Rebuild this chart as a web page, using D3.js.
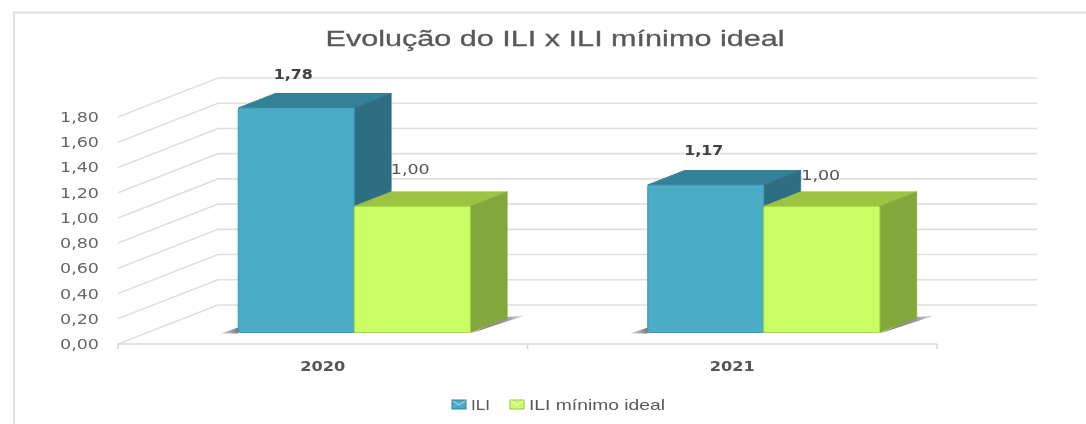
<!DOCTYPE html>
<html lang="pt">
<head>
<meta charset="UTF-8">
<title>Evolução do ILI x ILI mínimo ideal</title>
<script src="https://d3js.org/d3.v7.min.js"></script>
<style>
  html, body { margin: 0; padding: 0; background: #fff; }
  svg { display: block; }
</style>
</head>
<body>
<svg width="1086" height="424"></svg>
<script>
var categories = ["2020", "2021"];
var seriesNames = ["ILI", "ILI mínimo ideal"];
var iliValues = [1.78, 1.17];
var idealValues = [1.00, 1.00];
var yTicks = [0, 0.2, 0.4, 0.6, 0.8, 1.0, 1.2, 1.4, 1.6, 1.8];

var root = d3.select("svg");
var fmt = function(v) { return v.toFixed(2).replace(".", ","); };

// plot box
var left = 118, right = 937, floorY = 344, topY = 117;
var wallDx = 100, wallDy = -39;      // floor depth
var depthDx = 37, depthDy = -14.5;   // bar depth
var barDx = 31.5, barDy = -11.5;     // bars sit a bit inside the floor

var y = d3.scaleLinear().domain([0, 1.8]).range([floorY, topY]);
var x0 = d3.scaleBand().domain(categories).range([left, right]);
var x1 = d3.scaleBand().domain(d3.range(2)).range([0, 232]);
var barStart = (x0.bandwidth() - 232) / 2 + barDx;

var colors = [
  { front: "#4bacc6", top: "#338196", side: "#2f6e82", edge: "#3f93aa", light: "#8fd3e6" },
  { front: "#c9ff62", top: "#9dc440", side: "#82a83a", edge: "#a9d84c", light: "#eeffc0" }
];

var defs = root.append("defs");
// the picture is a soft, scaled-up image
defs.append("filter").attr("id", "soft")
  .attr("filterUnits", "userSpaceOnUse")
  .attr("x", 0).attr("y", 0).attr("width", 1086).attr("height", 424)
  .append("feGaussianBlur").attr("stdDeviation", 0.45);
var shade = defs.append("linearGradient").attr("id", "shade").attr("x1", 0).attr("x2", 1).attr("y1", 0).attr("y2", 0);
shade.append("stop").attr("offset", "0%").attr("stop-color", "#777");
shade.append("stop").attr("offset", "65%").attr("stop-color", "#999");
shade.append("stop").attr("offset", "100%").attr("stop-color", "#e4e4e4");
var shadeL = defs.append("linearGradient").attr("id", "shadeL").attr("x1", 0).attr("x2", 1).attr("y1", 0).attr("y2", 0);
shadeL.append("stop").attr("offset", "0%").attr("stop-color", "#e4e4e4");
shadeL.append("stop").attr("offset", "100%").attr("stop-color", "#777");

var svg = root.append("g").attr("filter", "url(#soft)");

// frame
svg.append("path")
  .attr("d", "M14,424V12.5H1086")
  .attr("fill", "none").attr("stroke", "#e0e0e0").attr("stroke-width", 2);

// Gridlines
var grid = svg.append("g").attr("fill", "none").attr("stroke", "#e0e0e0").attr("stroke-width", 1.6);
yTicks.forEach(function(t) {
  grid.append("path").attr("d", d3.line()([
    [left, y(t)],
    [left + wallDx, y(t) + wallDy],
    [right + wallDx, y(t) + wallDy]
  ]));
});

// Floor line
var axisG = svg.append("g").attr("stroke", "#d9d9d9").attr("stroke-width", 1.6).attr("fill", "none");
axisG.append("path").attr("d", d3.line()([[left, floorY], [right, floorY]]));
[left, (left + right) / 2, right].forEach(function(px) {
  axisG.append("path").attr("d", d3.line()([[px, floorY], [px, floorY + 5]]));
});

// Tick labels, squeezed wide like the picture
var yLabels = svg.append("g").attr("font-family", "DejaVu Sans").attr("fill", "#666");
yTicks.forEach(function(t) {
  yLabels.append("text")
    .attr("x", 99).attr("y", y(t) + 5)
    .attr("text-anchor", "end").attr("font-size", 13.5)
    .attr("textLength", 39).attr("lengthAdjust", "spacingAndGlyphs")
    .text(fmt(t));
});

svg.selectAll(".cat").data(categories).enter().append("text")
  .attr("class", "cat")
  .attr("x", function(d) { return x0(d) + x0.bandwidth() / 2; })
  .attr("y", 371)
  .attr("text-anchor", "middle")
  .attr("font-family", "DejaVu Sans").attr("font-weight", "bold").attr("font-size", 13.5)
  .attr("textLength", 45).attr("lengthAdjust", "spacingAndGlyphs")
  .attr("fill", "#555")
  .text(function(d) { return d; });

// Bars
function drawBar(cat, s, value) {
  var c = colors[s];
  var bx = x0(cat) + barStart + x1(s);
  var bw = x1.bandwidth();
  var base = y(0) + barDy;
  var tp = y(value) + barDy;
  var g = svg.append("g");
  // floor shadow
  if (s === 0) {
    g.append("path").attr("fill", "url(#shadeL)")
      .attr("d", d3.line()([[bx, base + 1], [bx, base - 5], [bx - 18, base + 1]]) + "Z");
  } else {
    g.append("path").attr("fill", "url(#shade)")
      .attr("d", d3.line()([[bx + bw, base + 1], [bx + bw + depthDx, base + depthDy - 1], [bx + bw + depthDx + 18, base + depthDy - 2.5]]) + "Z");
  }
  g.append("path").attr("fill", c.top).attr("stroke", c.top).attr("stroke-linejoin", "round")
    .attr("d", d3.line()([[bx, tp], [bx + depthDx, tp + depthDy], [bx + bw + depthDx, tp + depthDy], [bx + bw, tp]]) + "Z");
  g.append("path").attr("fill", c.side).attr("stroke", c.side).attr("stroke-width", 0.6).attr("stroke-linejoin", "round")
    .attr("d", d3.line()([[bx + bw, tp], [bx + bw + depthDx, tp + depthDy], [bx + bw + depthDx, base + depthDy], [bx + bw, base]]) + "Z");
  g.append("rect").attr("x", bx).attr("y", tp).attr("width", bw).attr("height", base - tp).attr("rx", 1.5)
    .attr("fill", c.front).attr("stroke", c.edge).attr("stroke-width", 1);
}

categories.forEach(function(cat, i) {
  drawBar(cat, 0, iliValues[i]);
});
categories.forEach(function(cat, i) {
  drawBar(cat, 1, idealValues[i]);
});

// Value labels
function valueLabel(cat, s, value, dx, dy, bold) {
  svg.append("text")
    .attr("x", x0(cat) + barStart + x1(s) + dx)
    .attr("y", y(value) + dy)
    .attr("text-anchor", "middle")
    .attr("font-family", "DejaVu Sans").attr("font-size", 13.5)
    .attr("font-weight", bold ? "bold" : "normal")
    .attr("textLength", 39).attr("lengthAdjust", "spacingAndGlyphs")
    .attr("fill", bold ? "#404040" : "#555")
    .text(fmt(value));
}
valueLabel("2020", 0, iliValues[0], 55, -40.5, true);
valueLabel("2021", 0, iliValues[1], 56, -41.5, true);
valueLabel("2020", 1, idealValues[0], 56, -44, false);
valueLabel("2021", 1, idealValues[1], 57, -37.5, false);

// Title
svg.append("text")
  .attr("x", 555).attr("y", 46)
  .attr("text-anchor", "middle")
  .attr("font-family", "Liberation Sans").attr("font-size", 22)
  .attr("textLength", 459).attr("lengthAdjust", "spacingAndGlyphs")
  .attr("fill", "#595959").attr("stroke", "#595959").attr("stroke-width", 0.3)
  .text("Evolução do ILI x ILI mínimo ideal");

// Legend
var legendX = [452, 510];
seriesNames.forEach(function(name, i) {
  var ix = legendX[i], iy = 400;
  svg.append("rect").attr("x", ix).attr("y", iy).attr("width", 14).attr("height", 9)
    .attr("fill", colors[i].front).attr("stroke", colors[i].top).attr("stroke-width", 1);
  svg.append("path")
    .attr("d", d3.line()([[ix + 1, iy + 1], [ix + 7, iy + 5], [ix + 13, iy + 1]]))
    .attr("fill", "none").attr("stroke", colors[i].light).attr("stroke-width", 1.2);
  svg.append("text")
    .attr("x", ix + 19).attr("y", 410)
    .attr("font-family", "Liberation Sans").attr("font-size", 14.5)
    .attr("textLength", i === 0 ? 19 : 136).attr("lengthAdjust", "spacingAndGlyphs")
    .attr("fill", "#595959")
    .text(name);
});
</script>
</body>
</html>
